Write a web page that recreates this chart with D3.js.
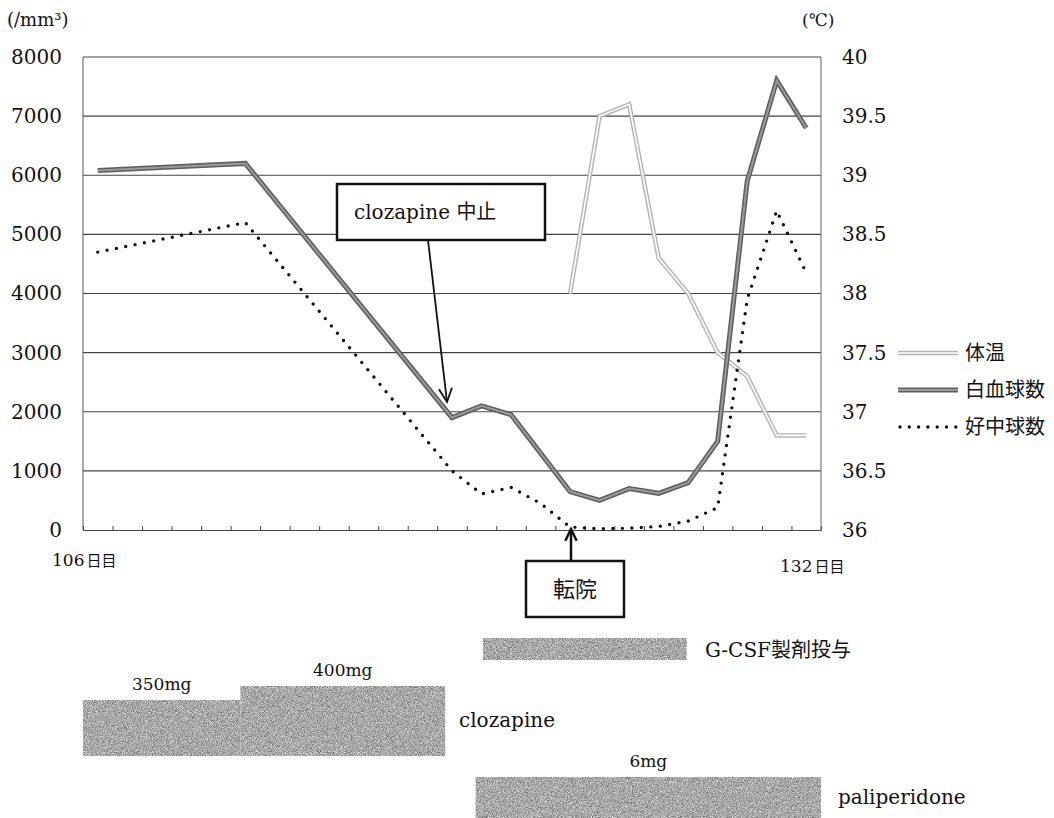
<!DOCTYPE html>
<html>
<head>
<meta charset="utf-8">
<script src="https://cdn.jsdelivr.net/npm/d3@7"></script>
<style>
  body { margin: 0; background: #fff; }
  svg { display: block; }
</style>
</head>
<body>
<div id="chart"></div>
<script>
// values (x = day slot, 0 = day 106)
var wbcDays = [0, 5, 12, 13, 14, 16, 17, 18, 19, 20, 21, 22, 23, 24];
var wbcValues = [6080, 6200, 1900, 2100, 1950, 650, 500, 700, 620, 800, 1500, 5900, 7600, 6800];

var neutDays = [0, 5, 12, 13, 14, 15, 16, 17, 18, 19, 20, 21, 22, 23, 24];
var neutValues = [4700, 5200, 1000, 610, 720, 450, 50, 20, 30, 60, 150, 380, 3900, 5400, 4350];

var tempDays = [16, 17, 18, 19, 20, 21, 22, 23, 24];
var tempValues = [38.0, 39.5, 39.6, 38.3, 38.0, 37.5, 37.3, 36.8, 36.8];

var leftTicks = [0, 1000, 2000, 3000, 4000, 5000, 6000, 7000, 8000];
var rightTicks = [36, 36.5, 37, 37.5, 38, 38.5, 39, 39.5, 40];
var dayLabels = ['106日目', '132日目'];
var legendNames = ['体温', '白血球数', '好中球数'];

// drug periods, in day slots
var drugNames = ['G-CSF製剤投与', 'clozapine', 'paliperidone'];
var drugPeriods = [
  { drug: 'G-CSF製剤投与', dose: '', start: 13.55, end: 20.45 },
  { drug: 'clozapine', dose: '350mg', start: 0, end: 5.33 },
  { drug: 'clozapine', dose: '400mg', start: 5.33, end: 12.27 },
  { drug: 'paliperidone', dose: '6mg', start: 13.3, end: 25 }
];

var serif = '"DejaVu Serif", "Liberation Serif", serif';
var sans = '"Noto Sans CJK JP", sans-serif';

var svg = d3.select('#chart').append('svg')
  .attr('width', 1054)
  .attr('height', 818);

// grainy fill like the scanned bars
var defs = svg.append('defs');
var grain = defs.append('filter').attr('id', 'grain')
  .attr('x', 0).attr('y', 0).attr('width', 1).attr('height', 1)
  .attr('color-interpolation-filters', 'sRGB');
grain.append('feTurbulence').attr('type', 'fractalNoise')
  .attr('baseFrequency', 1.2).attr('numOctaves', 1).attr('seed', 4).attr('result', 'n');
grain.append('feColorMatrix').attr('in', 'n').attr('type', 'saturate').attr('values', 0).attr('result', 'g');
var ct = grain.append('feComponentTransfer').attr('in', 'g').attr('result', 'm');
['feFuncR', 'feFuncG', 'feFuncB'].forEach(function(f) {
  ct.append(f).attr('type', 'linear').attr('slope', 1.2).attr('intercept', 0.06);
});
ct.append('feFuncA').attr('type', 'linear').attr('slope', 0).attr('intercept', 1);
grain.append('feComposite').attr('in', 'm').attr('in2', 'SourceGraphic').attr('operator', 'in');

function font(sel, family, size) {
  sel.style('font-family', family).style('font-size', size + 'px').attr('fill', '#111');
  return sel;
}

var plot = { left: 83, right: 821, top: 57, bottom: 530 };

var x = d3.scaleLinear().domain([0, 25]).range([plot.left, plot.right]);
var yL = d3.scaleLinear().domain([0, 8000]).range([plot.bottom, plot.top]);
var yR = d3.scaleLinear().domain([36, 40]).range([plot.bottom, plot.top]);
var mid = function(d) { return x(d + 0.5); };

// grid
svg.append('g').selectAll('line')
  .data(leftTicks.slice(1))
  .enter().append('line')
  .attr('x1', plot.left).attr('x2', plot.right)
  .attr('y1', function(d) { return yL(d); })
  .attr('y2', function(d) { return yL(d); })
  .attr('stroke', '#444').attr('stroke-width', 1.1);

// frame: left axis, right border
svg.append('line').attr('x1', plot.left).attr('x2', plot.left)
  .attr('y1', plot.top).attr('y2', plot.bottom).attr('stroke', '#555');
svg.append('line').attr('x1', plot.right).attr('x2', plot.right)
  .attr('y1', plot.top).attr('y2', plot.bottom).attr('stroke', '#666');

var xAxis = svg.append('g')
  .attr('transform', 'translate(0,' + plot.bottom + ')')
  .call(d3.axisBottom(x).tickValues(d3.range(0, 26)).tickSize(-4).tickFormat(''));
xAxis.selectAll('path, line').attr('stroke', '#444');

var leftAxis = svg.append('g')
  .attr('transform', 'translate(' + plot.left + ',0)')
  .call(d3.axisLeft(yL).tickValues(leftTicks).tickSize(0).tickPadding(21).tickFormat(String));
leftAxis.select('.domain').remove();
font(leftAxis.selectAll('text'), serif, 20);

var rightAxis = svg.append('g')
  .attr('transform', 'translate(' + plot.right + ',0)')
  .call(d3.axisRight(yR).tickValues(rightTicks).tickSize(0).tickPadding(21).tickFormat(String));
rightAxis.select('.domain').remove();
font(rightAxis.selectAll('text'), serif, 20);

// unit labels
font(svg.append('text').attr('x', 7).attr('y', 26), serif, 18).text('(/mm³)');
font(svg.append('text').attr('x', 802).attr('y', 26), serif, 17).text('(℃)');

// day labels
function dayLabel(label, x0, y0) {
  var t = svg.append('text').attr('x', x0).attr('y', y0).attr('fill', '#111');
  t.append('tspan').style('font-family', serif).style('font-size', '17px').text(label.slice(0, 3));
  t.append('tspan').style('font-family', sans).style('font-size', '15px').attr('dx', 2).text(label.slice(3));
}
dayLabel(dayLabels[0], 52, 566);
dayLabel(dayLabels[1], 780, 572);

// series
var tempLine = d3.line()
  .x(function(d) { return mid(d[0]); })
  .y(function(d) { return yR(d[1]); });
var countLine = d3.line()
  .x(function(d) { return mid(d[0]); })
  .y(function(d) { return yL(d[1]); });

var tempData = d3.zip(tempDays, tempValues);
var wbcData = d3.zip(wbcDays, wbcValues);
var neutData = d3.zip(neutDays, neutValues);

svg.append('path').datum(tempData).attr('d', tempLine)
  .attr('fill', 'none').attr('stroke', '#b4b4b4').attr('stroke-width', 4.5);
svg.append('path').datum(tempData).attr('d', tempLine)
  .attr('fill', 'none').attr('stroke', '#fff').attr('stroke-width', 1.6);

svg.append('path').datum(wbcData).attr('d', countLine)
  .attr('fill', 'none').attr('stroke', '#5e5e5e').attr('stroke-width', 5);
svg.append('path').datum(wbcData).attr('d', countLine)
  .attr('fill', 'none').attr('stroke', '#9a9a9a').attr('stroke-width', 2);

svg.append('path').datum(neutData).attr('d', countLine)
  .attr('fill', 'none').attr('stroke', '#111').attr('stroke-width', 3.4)
  .attr('stroke-linecap', 'round').attr('stroke-dasharray', '0 9.5');

// legend
var legend = svg.append('g');
var legendY = [353, 390, 427];
legendNames.forEach(function(name, i) {
  var y = legendY[i];
  if (i === 0) {
    legend.append('line').attr('x1', 898).attr('x2', 958).attr('y1', y).attr('y2', y)
      .attr('stroke', '#b4b4b4').attr('stroke-width', 4.5);
    legend.append('line').attr('x1', 898).attr('x2', 958).attr('y1', y).attr('y2', y)
      .attr('stroke', '#fff').attr('stroke-width', 1.6);
  } else if (i === 1) {
    legend.append('line').attr('x1', 898).attr('x2', 958).attr('y1', y).attr('y2', y)
      .attr('stroke', '#5e5e5e').attr('stroke-width', 5);
    legend.append('line').attr('x1', 898).attr('x2', 958).attr('y1', y).attr('y2', y)
      .attr('stroke', '#9a9a9a').attr('stroke-width', 2);
  } else {
    legend.append('line').attr('x1', 900).attr('x2', 958).attr('y1', y).attr('y2', y)
      .attr('stroke', '#111').attr('stroke-width', 3.4)
      .attr('stroke-linecap', 'round').attr('stroke-dasharray', '0 9.3');
  }
  font(legend.append('text').attr('x', 965).attr('y', y).attr('dy', '0.35em'), sans, 20).text(name);
});

// annotations
function arrowHead(x1, y1, x2, y2, len, width) {
  var a = Math.atan2(y2 - y1, x2 - x1);
  var p1 = [x2 - len * Math.cos(a - 0.45), y2 - len * Math.sin(a - 0.45)];
  var p2 = [x2 - len * Math.cos(a + 0.45), y2 - len * Math.sin(a + 0.45)];
  svg.append('path')
    .attr('d', 'M' + p1 + 'L' + x2 + ',' + y2 + 'L' + p2)
    .attr('fill', 'none').attr('stroke', '#111').attr('stroke-width', width);
}

svg.append('rect').attr('x', 337).attr('y', 184).attr('width', 208).attr('height', 56)
  .attr('fill', '#fff').attr('stroke', '#111').attr('stroke-width', 2.5);
var stopText = svg.append('text').attr('x', 354).attr('y', 219).attr('fill', '#111');
stopText.append('tspan').style('font-family', serif).style('font-size', '20px').text('clozapine ');
stopText.append('tspan').style('font-family', sans).style('font-size', '20px').text('中止');
svg.append('line').attr('x1', 428).attr('y1', 240).attr('x2', 447).attr('y2', 402)
  .attr('stroke', '#111').attr('stroke-width', 1.8);
arrowHead(428, 240, 447, 402, 15, 1.8);

svg.append('line').attr('x1', 571).attr('y1', 561).attr('x2', 571).attr('y2', 529)
  .attr('stroke', '#111').attr('stroke-width', 2.5);
arrowHead(571, 561, 571, 529, 13, 2.5);
svg.append('rect').attr('x', 526).attr('y', 561).attr('width', 98).attr('height', 56)
  .attr('fill', '#fff').attr('stroke', '#111').attr('stroke-width', 2.5);
font(svg.append('text').attr('x', 575).attr('y', 589).attr('dy', '0.35em')
  .attr('text-anchor', 'middle'), sans, 22).text('転院');

// drug bars (row layout)
var rowLayout = {
  'G-CSF製剤投与': { top: 638, bottom: 660, labelX: 705, labelY: 657 },
  'clozapine': { top: 700, bottom: 756, labelX: 459, labelY: 727 },
  'paliperidone': { top: 777, bottom: 818, labelX: 838, labelY: 804 }
};
var doseTop = { '400mg': 686 };

svg.append('g').selectAll('rect')
  .data(drugPeriods)
  .enter().append('rect')
  .attr('x', function(d) { return x(d.start); })
  .attr('width', function(d) { return x(d.end) - x(d.start); })
  .attr('y', function(d) { return doseTop[d.dose] || rowLayout[d.drug].top; })
  .attr('height', function(d) {
    return rowLayout[d.drug].bottom - (doseTop[d.dose] || rowLayout[d.drug].top);
  })
  .attr('fill', '#a7a7a7')
  .attr('filter', 'url(#grain)');

font(svg.append('g').selectAll('text')
  .data(drugPeriods.filter(function(d) { return d.dose; }))
  .enter().append('text')
  .attr('x', function(d) { return (x(d.start) + x(d.end)) / 2; })
  .attr('y', function(d) { return (doseTop[d.dose] || rowLayout[d.drug].top) - 10; })
  .attr('text-anchor', 'middle'), serif, 17)
  .text(function(d) { return d.dose; });

var drugLabels = svg.append('g').selectAll('text')
  .data(drugNames)
  .enter().append('text')
  .attr('x', function(d) { return rowLayout[d].labelX; })
  .attr('y', function(d) { return rowLayout[d].labelY; })
  .attr('fill', '#111');
drugLabels.each(function(d) {
  var t = d3.select(this);
  var m = d.match(/^([A-Za-z\-]+)(.*)$/);
  t.append('tspan').style('font-family', serif).style('font-size', '20px').text(m[1]);
  if (m[2]) t.append('tspan').style('font-family', sans).style('font-size', '20px').text(m[2]);
});
</script>
</body>
</html>
